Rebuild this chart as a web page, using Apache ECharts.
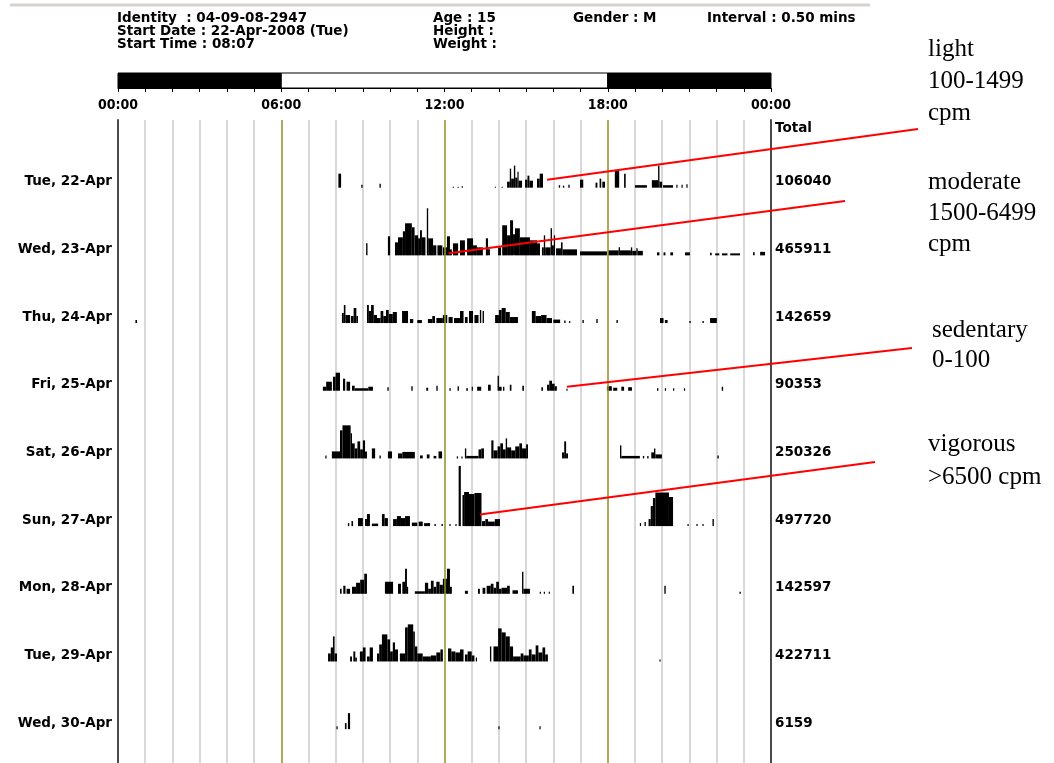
<!DOCTYPE html>
<html>
<head>
<meta charset="utf-8">
<script src="https://cdn.jsdelivr.net/npm/echarts@6/dist/echarts.min.js"></script>
<style>
  html, body { margin: 0; padding: 0; background: #ffffff; }
  #chart { width: 1054px; height: 763px; }
</style>
</head>
<body>
<div id="chart"></div>
<script>
// Day rows (top to bottom) and the daily count totals printed on the right.
const DAY_LABELS = ['Tue, 22-Apr', 'Wed, 23-Apr', 'Thu, 24-Apr', 'Fri, 25-Apr', 'Sat, 26-Apr',
                    'Sun, 27-Apr', 'Mon, 28-Apr', 'Tue, 29-Apr', 'Wed, 30-Apr'];
const DAY_TOTALS = ['106040', '465911', '142659', '90353', '250326', '497720', '142597', '422711', '6159'];

// Clock ticks on the top ruler (hours) and the dark/light periods of the day.
const HOUR_LABELS = { 0: '00:00', 6: '06:00', 12: '12:00', 18: '18:00', 24: '00:00' };
const DAY_NIGHT = [[0, 6, 1], [6, 18, 0], [18, 24, 1]]; // [start h, end h, dark?]
const MARKED_HOURS = [6, 12, 18];

// Activity bouts per day: [start hour, end hour, counts per epoch]
const tue22 = [[8.10,8.20,2800],[8.94,8.99,600],[9.61,9.66,800],[12.30,12.33,200],[12.48,12.51,200],[12.63,12.66,300],
  [13.85,13.88,200],[14.10,14.13,200],[14.30,14.40,1200],[14.40,14.45,3800],[14.45,14.55,1800],[14.55,14.60,4400],
  [14.60,14.68,2000],[14.68,14.72,3200],[14.72,14.85,1400],[14.96,15.05,1600],[15.05,15.12,2400],[15.12,15.25,1400],
  [15.40,15.50,1800],[15.50,15.62,2800],[16.20,16.25,500],[16.35,16.40,400],[16.55,16.60,600],[16.98,17.10,1600],
  [17.55,17.62,1000],[17.70,17.76,1800],[17.80,17.90,1200],[18.26,18.42,3400],[18.60,18.66,2800],[19.00,19.44,500],
  [19.62,19.85,1500],[19.85,19.90,4400],[19.90,20.00,1200],[20.03,20.40,500],[20.52,20.56,600],[20.71,20.75,600],[20.89,20.93,700]];
const wed23 = [[9.12,9.17,2400],[9.92,10.00,3800],[10.18,10.29,2600],[10.29,10.47,3600],[10.47,10.55,4800],[10.55,10.80,6400],
  [10.80,10.90,5600],[10.90,11.03,4000],[11.03,11.10,3400],[11.10,11.17,5000],[11.17,11.30,3600],[11.35,11.40,9400],
  [11.40,11.58,3400],[11.58,11.70,2000],[11.74,11.92,2000],[11.94,12.09,1600],[12.09,12.20,3800],[12.20,12.27,1200],
  [12.31,12.50,2400],[12.57,12.75,3000],[12.83,13.05,3400],[13.05,13.19,2000],[13.19,13.41,1600],[13.52,13.60,3400],
  [13.60,13.67,1200],[13.97,14.08,1600],[14.12,14.30,6000],[14.30,14.41,4000],[14.41,14.52,7000],[14.52,14.59,4200],
  [14.59,14.77,5400],[14.77,15.14,3600],[15.14,15.40,3000],[15.40,15.51,2400],[15.58,15.65,1600],[15.65,15.70,4000],
  [15.70,15.90,1600],[15.90,15.95,5400],[15.95,16.02,2000],[16.02,16.06,4000],[16.10,16.28,1400],[16.28,16.34,2600],
  [16.34,16.87,1200],[16.98,17.97,800],[18.01,18.40,1000],[18.40,18.45,1600],[18.45,18.85,1000],[18.85,18.90,1600],
  [18.90,19.05,900],[19.05,19.10,1400],[19.10,19.29,900],[19.81,19.90,600],[20.05,20.12,600],[20.30,20.40,600],
  [20.84,21.02,600],[21.76,21.82,500],[21.95,22.10,400],[22.20,22.40,400],[22.50,22.86,400],[23.34,23.40,600],[23.60,23.78,700]];
const thu24 = [[0.64,0.70,600],[8.23,8.30,2000],[8.30,8.36,3600],[8.36,8.53,1600],[8.56,8.66,1400],[8.66,8.76,3000],
  [8.76,8.82,1400],[9.15,9.22,3600],[9.22,9.30,2400],[9.30,9.40,3600],[9.40,9.52,1600],[9.52,9.65,1000],[9.65,9.75,2400],
  [9.75,9.85,1400],[9.85,9.95,2600],[9.95,10.10,1800],[10.10,10.25,2200],[10.44,10.66,2400],[10.73,10.85,800],
  [11.00,11.17,600],[11.39,11.55,800],[11.55,11.65,1400],[11.70,11.94,1000],[11.94,12.10,1600],[12.15,12.30,1200],
  [12.35,12.57,1000],[12.57,12.70,2400],[12.75,12.85,1200],[12.90,13.05,2400],[13.10,13.25,1600],[13.30,13.35,2600],
  [13.40,13.45,2400],[13.86,14.00,1600],[14.00,14.10,2600],[14.10,14.25,3000],[14.25,14.40,2200],[14.40,14.70,1200],
  [15.21,15.35,2400],[15.35,15.55,1400],[15.55,15.75,1600],[15.75,15.95,1000],[16.00,16.25,700],[16.40,16.45,500],
  [16.58,16.62,400],[17.07,17.12,600],[17.58,17.63,800],[18.32,18.37,600],[19.92,20.05,1000],[20.10,20.20,600],
  [21.00,21.05,400],[21.48,21.53,400],[21.76,22.01,1000]];
const fri25 = [[7.53,7.65,800],[7.65,7.86,1800],[7.90,8.00,2800],[8.00,8.16,3600],[8.27,8.35,2400],[8.40,8.53,1800],
  [8.60,8.70,1000],[8.70,9.20,500],[9.20,9.37,800],[9.90,9.95,700],[10.78,10.83,900],[11.33,11.40,600],[11.70,11.75,1000],
  [12.18,12.23,500],[12.48,12.53,900],[12.80,12.86,500],[13.00,13.04,800],[13.20,13.35,800],[13.60,13.70,1200],
  [13.95,14.00,3000],[14.00,14.10,800],[14.15,14.20,800],[14.40,14.46,1200],[14.86,14.92,1000],[15.56,15.62,700],
  [15.77,15.85,1200],[15.85,15.95,2000],[15.95,16.05,1400],[16.05,16.13,900],[16.48,16.52,400],[17.97,18.15,900],
  [18.20,18.35,600],[18.50,18.60,800],[18.75,18.89,700],[19.81,19.86,500],[20.10,20.14,500],[20.40,20.44,500],
  [20.80,20.84,500],[22.19,22.24,800]];
const sat26 = [[7.62,7.66,600],[7.86,8.16,1400],[8.16,8.25,5600],[8.25,8.55,6600],[8.55,8.60,5000],[8.60,8.70,3000],
  [8.70,8.80,2000],[8.80,8.90,3400],[8.90,9.00,1800],[9.00,9.08,3600],[9.08,9.15,1400],[9.33,9.45,2000],[9.61,9.66,600],
  [9.92,10.07,1400],[10.29,10.45,1000],[10.45,10.91,1300],[11.10,11.20,600],[11.35,11.45,800],[11.60,11.70,500],
  [11.78,11.91,1400],[12.45,12.50,400],[12.62,12.66,400],[12.75,12.80,2000],[12.80,13.25,500],[13.25,13.35,1800],
  [13.35,13.45,2000],[13.72,13.80,3600],[13.80,13.95,1600],[13.95,14.05,2400],[14.05,14.15,3000],[14.15,14.25,1800],
  [14.25,14.30,4000],[14.30,14.45,2200],[14.45,14.60,1600],[14.60,14.75,2400],[14.75,14.85,3000],[14.85,15.00,2000],
  [15.00,15.07,2800],[16.32,16.40,1200],[16.40,16.47,3400],[16.47,16.54,1000],[18.45,18.50,2600],[18.50,19.18,500],
  [19.29,19.34,500],[19.45,19.50,500],[19.60,19.70,1200],[19.70,19.75,2000],[19.75,19.99,800],[22.03,22.08,600]];
const sun27 = [[8.45,8.50,600],[8.58,8.64,1000],[8.82,9.00,1600],[9.08,9.15,1400],[9.15,9.26,2400],[9.33,9.56,500],
  [9.70,9.80,2400],[9.80,9.92,1600],[10.11,10.25,1400],[10.25,10.40,2000],[10.40,10.55,1600],[10.55,10.73,2000],
  [10.80,11.00,700],[11.05,11.20,900],[11.25,11.47,600],[11.63,11.68,400],[11.89,11.94,400],[12.18,12.22,400],
  [12.40,12.44,400],[12.52,12.60,12000],[12.66,12.72,6200],[12.72,12.90,6800],[12.90,13.10,6400],[13.10,13.36,6600],
  [13.38,13.50,1000],[13.50,13.60,1400],[13.60,13.85,900],[13.85,14.04,1400],[19.18,19.22,600],[19.35,19.40,800],
  [19.50,19.58,1400],[19.58,19.66,4000],[19.66,19.75,5600],[19.75,20.25,6700],[20.25,20.40,5800],[20.93,20.97,400],
  [21.26,21.30,400],[21.48,21.52,400],[21.85,21.90,1400]];
const mon28 = [[8.16,8.22,1000],[8.28,8.36,1600],[8.40,8.53,1000],[8.60,8.75,1400],[8.75,8.90,2200],[8.90,9.05,2800],
  [9.05,9.15,4000],[9.81,10.11,2400],[10.29,10.40,2000],[10.45,10.55,2400],[10.55,10.62,5000],[10.62,10.66,1400],
  [10.91,11.28,500],[11.28,11.40,2200],[11.40,11.50,1000],[11.50,11.60,2600],[11.60,11.70,1400],[11.70,11.82,2400],
  [11.82,11.94,1800],[11.94,12.09,3000],[12.09,12.20,5000],[12.20,12.27,1400],[12.75,12.86,600],[13.23,13.30,1000],
  [13.40,13.50,1200],[13.55,13.70,1600],[13.70,13.80,2000],[13.80,13.90,1200],[13.90,14.00,2400],[14.00,14.10,1000],
  [14.10,14.30,1200],[14.30,14.40,1600],[14.50,14.70,700],[14.85,14.90,4400],[14.90,15.14,1000],[15.50,15.54,400],
  [15.65,15.69,400],[15.83,15.87,400],[16.70,16.76,1600],[20.08,20.13,1600],[22.84,22.89,400]];
const tue29 = [[7.72,7.82,1600],[7.82,7.90,2800],[7.90,7.96,5000],[7.96,8.05,1600],[8.53,8.60,1000],[8.65,8.72,2000],
  [8.72,8.78,800],[8.89,9.00,2000],[9.00,9.10,2800],[9.15,9.25,1000],[9.25,9.37,2800],[9.52,9.60,1600],[9.60,9.70,3400],
  [9.70,9.90,5400],[9.90,10.00,4400],[10.00,10.10,2000],[10.10,10.18,3800],[10.18,10.29,2400],[10.36,10.55,1600],
  [10.55,10.65,6800],[10.65,10.85,7400],[10.85,10.91,6000],[10.91,11.00,3000],[11.00,11.20,1600],[11.20,11.50,1000],
  [11.50,11.70,1200],[11.70,11.85,1800],[11.85,11.94,2400],[12.13,12.25,2600],[12.25,12.40,2000],[12.40,12.57,1800],
  [12.57,12.70,2400],[12.75,12.85,1400],[12.85,13.00,2000],[13.00,13.10,1200],[13.15,13.19,800],[13.67,13.72,3000],
  [13.80,13.97,3000],[13.97,14.10,6600],[14.10,14.25,5800],[14.25,14.40,5000],[14.40,14.52,3000],[14.52,14.80,1000],
  [14.80,14.90,1600],[14.90,15.10,1200],[15.10,15.20,2400],[15.20,15.35,1400],[15.35,15.45,3200],[15.45,15.60,1800],
  [15.60,15.70,2800],[15.70,15.80,1400],[19.90,19.94,400]];
const wed30 = [[8.03,8.07,600],[8.34,8.40,1200],[8.45,8.53,3200],[13.98,14.02,600],[15.49,15.53,600]];
const DAYS = [tue22, wed23, thu24, fri25, sat26, sun27, mon28, tue29, wed30];

// Counts scale: each day row spans this many counts between baselines.
const ROW_SPAN = 13500;

// Activity-class pointers: [hour, row index, counts above baseline]
const POINTERS = [
  { at: [15.77, 0, 1600], to: [918, 129] },
  { at: [12.16, 1, 400],  to: [845, 201] },
  { at: [16.50, 3, 800],  to: [912, 348] },
  { at: [13.30, 5, 2300], to: [875, 462] }
];

const activity = [];
DAYS.forEach((bouts, row) => bouts.forEach(b => activity.push([row, b[0], b[1], b[2]])));

const LABEL_FONT = '"DejaVu Sans", "Liberation Sans", sans-serif';
const NOTE_FONT = '25px "Liberation Serif", "DejaVu Serif", serif';
const HEAD_FONT = 'bold 13.5px ' + LABEL_FONT;

const chart = echarts.init(document.getElementById('chart'), null, { renderer: 'canvas' });

const olive = '#9c9c2c';
const markLineData = MARKED_HOURS.map(h => ({ xAxis: h, lineStyle: { color: olive, width: 1.5, type: 'solid' } }))
  .concat(POINTERS.map(p => [
    { coord: [p.at[0], (p.at[1] + 1) * ROW_SPAN - p.at[2]], lineStyle: { color: '#ff0000', width: 2, type: 'solid' } },
    { x: p.to[0], y: p.to[1] }
  ]));

const rowLabelStyle = { fontFamily: LABEL_FONT, fontWeight: 'bold', fontSize: 13.5, color: '#000', padding: [0, 0, 12, 0] };

const option = {
  animation: false,
  backgroundColor: '#ffffff',
  grid: [
    { left: 118, width: 653, top: 120, height: 643.6, containLabel: false },
    { left: 118, width: 653, top: 73, height: 15, containLabel: false }
  ],
  xAxis: [
    {
      gridIndex: 0, type: 'value', min: 0, max: 24, interval: 1,
      axisLine: { show: false }, axisTick: { show: false }, axisLabel: { show: false },
      splitLine: { show: true, lineStyle: { color: '#cdcdcd', width: 1.5 } }
    },
    {
      gridIndex: 1, type: 'value', min: 0, max: 24, interval: 1, position: 'bottom',
      axisLine: { show: true, lineStyle: { color: '#000', width: 1 } },
      axisTick: { show: true, length: 4, lineStyle: { color: '#000', width: 1 } },
      splitLine: { show: false },
      axisLabel: {
        show: true, margin: 10, showMinLabel: true, showMaxLabel: true,
        formatter: v => HOUR_LABELS[v] || '',
        fontFamily: '"DejaVu Sans Condensed", ' + LABEL_FONT, fontWeight: 'bold', fontSize: 14, color: '#000'
      }
    }
  ],
  yAxis: [
    {
      gridIndex: 0, type: 'value', inverse: true, min: 0, max: ROW_SPAN * 9.5, interval: ROW_SPAN,
      position: 'left',
      axisLine: { show: true, lineStyle: { color: '#4a4a4a', width: 2 } },
      axisTick: { show: false }, splitLine: { show: false },
      axisLabel: {
        margin: 6, verticalAlign: 'middle',
        formatter: v => {
          const i = Math.round(v / ROW_SPAN) - 1;
          return (v % ROW_SPAN === 0 && DAY_LABELS[i]) ? '{d|' + DAY_LABELS[i] + '}' : '';
        },
        rich: { d: rowLabelStyle }
      }
    },
    {
      gridIndex: 0, type: 'value', inverse: true, min: 0, max: ROW_SPAN * 9.5, interval: ROW_SPAN,
      position: 'right',
      axisLine: { show: true, lineStyle: { color: '#4a4a4a', width: 2 } },
      axisTick: { show: false }, splitLine: { show: false },
      axisLabel: {
        margin: 4, align: 'left', verticalAlign: 'middle',
        formatter: v => {
          if (v === 0) return '{t|Total}';
          const i = Math.round(v / ROW_SPAN) - 1;
          return (v % ROW_SPAN === 0 && DAY_TOTALS[i]) ? '{v|' + DAY_TOTALS[i] + '}' : '';
        },
        rich: {
          t: { fontFamily: LABEL_FONT, fontWeight: 'bold', fontSize: 13.5, color: '#000', padding: [16, 0, 0, 0] },
          v: rowLabelStyle
        }
      }
    },
    { gridIndex: 1, type: 'value', min: 0, max: 1, show: false }
  ],
  series: [
    {
      type: 'custom', name: 'activity', xAxisIndex: 0, yAxisIndex: 0,
      data: activity, encode: { x: [1, 2], y: 3 }, clip: false,
      renderItem: (params, api) => {
        const row = api.value(0), s = api.value(1), e = api.value(2), c = api.value(3);
        const base = (row + 1) * ROW_SPAN;
        const p0 = api.coord([s, base]);
        const p1 = api.coord([e, base - c]);
        return {
          type: 'rect',
          shape: { x: p0[0], y: p1[1], width: Math.max(p1[0] - p0[0], 1.2), height: Math.max(p0[1] - p1[1], 1) },
          style: { fill: '#000' }
        };
      },
      markLine: {
        silent: true, symbol: ['none', 'none'], label: { show: false },
        lineStyle: { type: 'solid' }, data: markLineData
      },
      z: 3
    },
    {
      type: 'custom', name: 'daynight', xAxisIndex: 1, yAxisIndex: 2,
      data: DAY_NIGHT, encode: { x: [0, 1] },
      renderItem: (params, api) => {
        const p0 = api.coord([api.value(0), 1]);
        const p1 = api.coord([api.value(1), 0]);
        return {
          type: 'rect',
          shape: { x: p0[0], y: p0[1], width: p1[0] - p0[0], height: p1[1] - p0[1] },
          style: { fill: api.value(2) ? '#000' : '#fff', stroke: '#000', lineWidth: 1 }
        };
      }
    }
  ],
  graphic: [
    { type: 'line', shape: { x1: 10, y1: 5, x2: 870, y2: 5 }, style: { stroke: '#d6d3ce', lineWidth: 3 } },
    { type: 'text', left: 117, top: 11, style: { text: 'Identity  : 04-09-08-2947', font: HEAD_FONT, fill: '#000' } },
    { type: 'text', left: 117, top: 24, style: { text: 'Start Date : 22-Apr-2008 (Tue)', font: HEAD_FONT, fill: '#000' } },
    { type: 'text', left: 117, top: 37, style: { text: 'Start Time : 08:07', font: HEAD_FONT, fill: '#000' } },
    { type: 'text', left: 433, top: 11, style: { text: 'Age : 15', font: HEAD_FONT, fill: '#000' } },
    { type: 'text', left: 433, top: 24, style: { text: 'Height :', font: HEAD_FONT, fill: '#000' } },
    { type: 'text', left: 433, top: 37, style: { text: 'Weight :', font: HEAD_FONT, fill: '#000' } },
    { type: 'text', left: 573, top: 11, style: { text: 'Gender : M', font: HEAD_FONT, fill: '#000' } },
    { type: 'text', left: 707, top: 11, style: { text: 'Interval : 0.50 mins', font: HEAD_FONT, fill: '#000' } },
    { type: 'text', left: 928, top: 33, style: { text: 'light\n100-1499\ncpm', font: NOTE_FONT, lineHeight: 32, fill: '#000' } },
    { type: 'text', left: 928, top: 167, style: { text: 'moderate\n1500-6499\ncpm', font: NOTE_FONT, lineHeight: 31, fill: '#000' } },
    { type: 'text', left: 932, top: 315, style: { text: 'sedentary\n0-100', font: NOTE_FONT, lineHeight: 30, fill: '#000' } },
    { type: 'text', left: 928, top: 428, style: { text: 'vigorous\n>6500 cpm', font: NOTE_FONT, lineHeight: 33, fill: '#000' } }
  ]
};

chart.setOption(option);
</script>
</body>
</html>
